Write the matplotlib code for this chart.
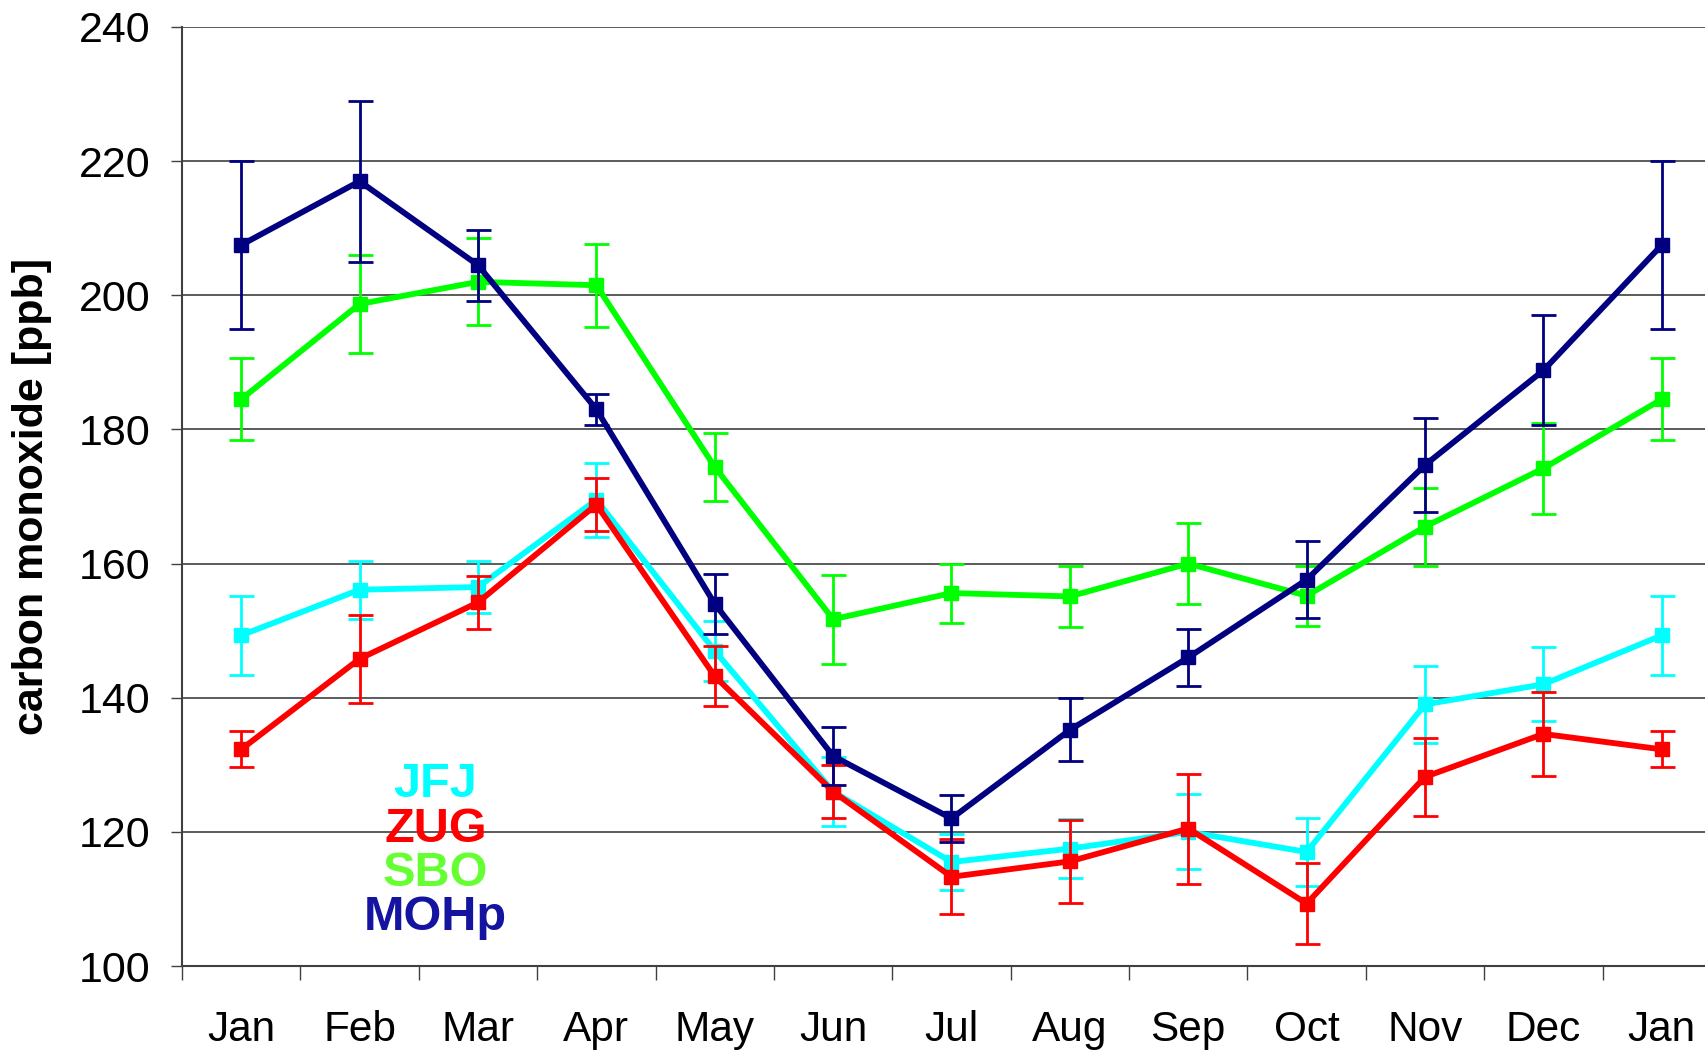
import numpy as np
import matplotlib.pyplot as plt

# monthly means and errors (ppb)
months = ["Jan", "Feb", "Mar", "Apr", "May", "Jun", "Jul", "Aug", "Sep", "Oct", "Nov", "Dec", "Jan"]

jfj = [149.3, 156.1, 156.5, 169.5, 147.0, 126.0, 115.5, 117.5, 120.0, 117.0, 139.0, 142.0, 149.3]
jfj_err = [5.9, 4.3, 3.9, 5.5, 4.5, 5.2, 4.2, 4.4, 5.6, 5.0, 5.8, 5.5, 5.9]

zug = [132.3, 145.8, 154.2, 168.8, 143.2, 126.0, 113.3, 115.6, 120.5, 109.3, 128.2, 134.6, 132.3]
zug_err = [2.7, 6.6, 3.9, 4.0, 4.5, 3.9, 5.6, 6.2, 8.2, 6.0, 5.8, 6.3, 2.7]

sbo = [184.5, 198.7, 202.0, 201.5, 174.4, 151.7, 155.6, 155.1, 160.0, 155.2, 165.5, 174.2, 184.5]
sbo_err = [6.1, 7.3, 6.5, 6.2, 5.0, 6.6, 4.4, 4.6, 6.0, 4.5, 5.8, 6.8, 6.1]

mohp = [207.5, 217.0, 204.5, 183.0, 154.0, 131.3, 122.0, 135.2, 146.0, 157.6, 174.7, 188.8, 207.5]
mohp_err = [12.5, 12.0, 5.3, 2.3, 4.5, 4.3, 3.5, 4.7, 4.2, 5.7, 7.0, 8.2, 12.5]

series = [
    ("JFJ", jfj, jfj_err, "#00FFFF", "#00FFFF"),
    ("ZUG", zug, zug_err, "#FF0000", "#FF0000"),
    ("SBO", sbo, sbo_err, "#00FF00", "#66FF33"),
    ("MOHp", mohp, mohp_err, "#000080", "#1414A0"),
]

plt.rcParams['font.family'] = ['Liberation Sans', 'DejaVu Sans']

fig = plt.figure(figsize=(17.06, 10.53), dpi=100)
ax = fig.add_axes([182 / 1706, 1 - 966 / 1053, (1721 - 182) / 1706, (966 - 27) / 1053])

x = np.arange(len(months))
for i, (nom, val, err, col, _) in enumerate(series):
    ax.errorbar(x, val, yerr=err, color=col, lw=4.2, marker="s", ms=10,
                ecolor=col, elinewidth=2, capsize=9, capthick=2, zorder=3 + i)

# legend as coloured words
for k, (nom, val, err, col, tcol) in enumerate(series):
    ax.text(1.64, 127.0 - k * 6.6, nom, color=tcol, fontsize=35,
            fontweight="bold", ha="center", va="center", zorder=10)

ax.set_xlim(-0.5, 12.5)
ax.set_ylim(100, 240)
ax.set_yticks(np.arange(100, 241, 20))
ax.set_xticks(x)
ax.set_xticklabels(months)
ax.set_xticks(np.arange(-0.5, 12.5, 1), minor=True)
ax.tick_params(axis="x", which="major", length=0, pad=32, labelsize=30.5)
ax.tick_params(axis="x", which="minor", length=10, width=1, color="#404040", direction="out")
ax.tick_params(axis="y", length=8, width=1, color="#404040", direction="out", labelsize=31, pad=15)

ax.grid(axis="y", color="#404040", lw=1.2)
ax.set_axisbelow(True)
for s in ["top", "right"]:
    ax.spines[s].set_visible(False)
for s in ["left", "bottom"]:
    ax.spines[s].set_color("#404040")
    ax.spines[s].set_linewidth(1.5)

ax.set_ylabel("carbon monoxide [ppb]", fontsize=31, fontweight="bold")
ax.yaxis.set_label_coords(-(182 - 52) / (1721 - 182), 0.5)

fig.savefig("out.png", dpi=100)
